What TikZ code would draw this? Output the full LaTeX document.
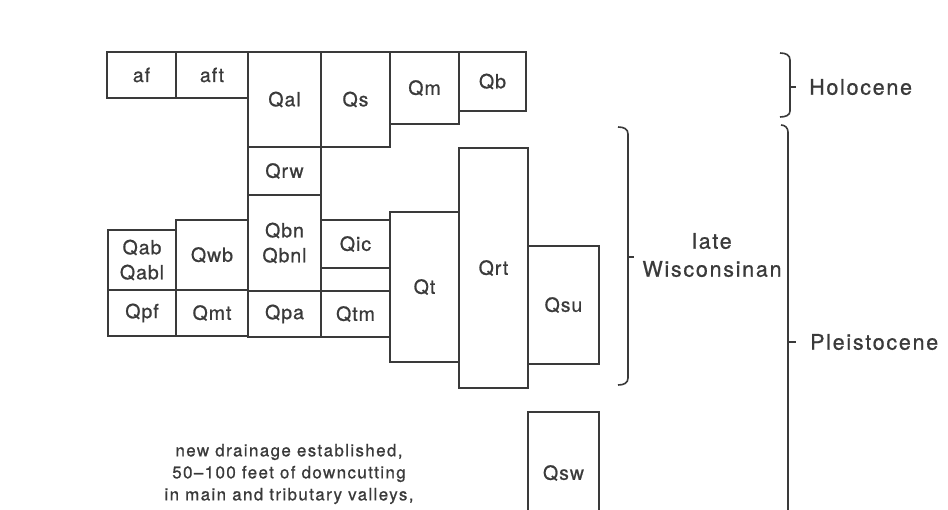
\documentclass[tikz,border=0pt]{standalone}
\usepackage{fontspec}
\setmainfont{TeX Gyre Heros}[LetterSpace=5,FakeBold=0.8]
\definecolor{ink}{HTML}{3A3A3A}
\newcommand\geobox[6]{%
  \node[box, minimum width={(#4-#2)*1pt}, minimum height={(#5-#3)*1pt}]
    (#1) at ({(#2+#4)/2},{(#3+#5)/2}) {#6};}
\begin{document}
\begin{tikzpicture}[x=1pt,y=-1pt,
  box/.style={draw=ink, line width=1.8pt, text=ink,
    font=\fontsize{19.5}{25}\selectfont, align=center, inner sep=0pt, outer sep=0pt},
  lbl/.style={text=ink, font=\fontsize{21.5}{28}\selectfont\addfontfeatures{LetterSpace=8}, inner sep=0pt},
  note/.style={text=ink, font=\fontsize{17}{22}\selectfont\addfontfeatures{LetterSpace=8}, align=center, inner sep=0pt},
  brk/.style={draw=ink, line width=1.6pt}]
\clip (0,0) rectangle (948,509);
\fill[white] (0,0) rectangle (948,509);
% top row
\geobox{af}{107}{52}{176}{98}{af}
\geobox{aft}{176}{52}{248}{98}{aft}
\geobox{Qal}{248}{52}{321}{147}{Qal}
\geobox{Qs}{321}{52}{390}{147}{Qs}
\geobox{Qm}{390}{52}{459}{124}{Qm}
\geobox{Qb}{459}{52}{526}{111}{Qb}
% middle column
\geobox{Qrw}{248}{147}{321}{195}{Qrw}
\geobox{Qbn}{248}{195}{321}{291}{Qbn\\Qbnl}
\geobox{Qpa}{248}{291}{321}{337}{Qpa}
\geobox{Qab}{108}{230}{176}{290}{Qab\\Qabl}
\geobox{Qpf}{108}{290}{176}{336}{Qpf}
\geobox{Qwb}{176}{220}{248}{290}{Qwb}
\geobox{Qmt}{176}{290}{248}{336}{Qmt}
\geobox{Qic}{321}{220}{390}{268}{Qic}
\geobox{Qgap}{321}{268}{390}{291}{}
\geobox{Qtm}{321}{291}{390}{337}{Qtm}
\geobox{Qt}{390}{212}{459}{362}{Qt}
\geobox{Qrt}{459}{148}{528}{388}{Qrt}
\geobox{Qsu}{528}{246}{599}{364}{Qsu}
\node[box, minimum width=71pt, minimum height=140pt, anchor=north] (Qsw) at (563.5,412) {};
\node[box, draw=none] (Qswl) at (563.5,473) {Qsw};
% note
\node[note] (drain) at (289,474) {new drainage established,\\50--100 feet of downcutting\\in main and tributary valleys,};
% brackets
\draw[brk] (618,127) .. controls (624,127) and (628,129) .. (628,134) -- (628,378) .. controls (628,383) and (624,385) .. (618,385);
\draw[brk] (628,257) -- (634,257);
\draw[brk] (780,53) .. controls (786,53) and (790,55) .. (790,60) -- (790,111) .. controls (790,115) and (786,117) .. (780,117);
\draw[brk] (790,87) -- (796,87);
\draw[brk] (781,125) .. controls (785,125) and (788,128) .. (788,132) -- (788,530);
\draw[brk] (788,342) -- (796,342);
% labels
\node[lbl, anchor=west] (holo) at (809,87) {Holocene};
\node[lbl, anchor=west] (pleis) at (810,342) {Pleistocene};
\node[lbl, align=center] (latew) at (712,255) {late\\Wisconsinan};
\end{tikzpicture}
\end{document}
